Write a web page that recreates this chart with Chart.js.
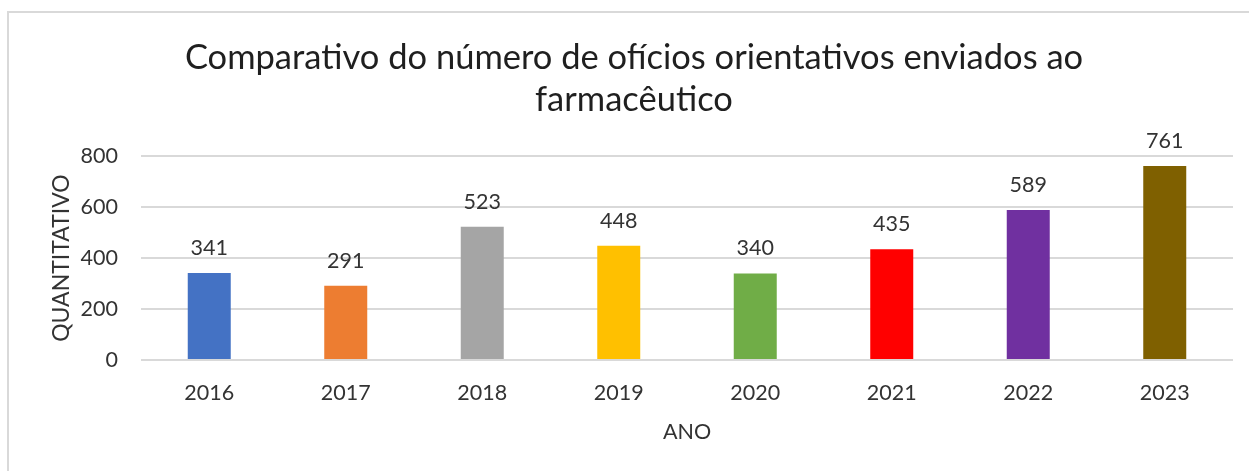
<!DOCTYPE html>
<html>
<head>
<meta charset="utf-8">
<script src="https://cdn.jsdelivr.net/npm/chart.js@4/dist/chart.umd.min.js"></script>
<style>
  html, body { margin: 0; padding: 0; background: #fff; overflow: hidden; }
  .frame {
    position: absolute; left: 7px; top: 11px;
    width: 1400px; height: 600px;
    border-left: 2px solid #d9d9d9; border-top: 2px solid #d9d9d9;
  }
  #chart { position: absolute; left: 0; top: 0; }
</style>
</head>
<body>
<div class="frame"></div>
<canvas id="chart" width="1249" height="471"></canvas>
<script>
const anos = ["2016", "2017", "2018", "2019", "2020", "2021", "2022", "2023"];
const oficios = [341, 291, 523, 448, 340, 435, 589, 761];
const coresBarras = ["#4472C4", "#ED7D31", "#A5A5A5", "#FFC000", "#70AD47", "#FF0000", "#7030A0", "#7F6000"];
const ticksY = [0, 200, 400, 600, 800];
const tituloY = "QUANTITATIVO";

const fontFamily = "Lato, 'Open Sans', sans-serif";
const textColor = "#333333";

// rotulos de dados acima das barras + titulo do eixo y
const rotulos = {
    id: "rotulos",
    afterDatasetsDraw(chart) {
        const ctx = chart.ctx;
        const meta = chart.getDatasetMeta(0);
        ctx.save();
        ctx.font = "21.5px " + fontFamily;
        ctx.fillStyle = textColor;
        ctx.textAlign = "center";
        ctx.textBaseline = "middle";
        meta.data.forEach((bar, i) => {
            ctx.fillText(String(oficios[i]), bar.x, bar.y - 25);
        });
        // titulo vertical
        const area = chart.chartArea;
        ctx.font = "23px " + fontFamily;
        ctx.translate(62, (area.top + area.bottom) / 2);
        ctx.rotate(-Math.PI / 2);
        ctx.fillText(tituloY, 0, 0);
        ctx.restore();
    }
};

new Chart(document.getElementById("chart").getContext("2d"), {
    type: "bar",
    data: {
        labels: anos,
        datasets: [{
            data: oficios,
            backgroundColor: coresBarras,
            borderWidth: 0,
            categoryPercentage: 1,
            barPercentage: 0.315,
        }],
    },
    options: {
        responsive: false,
        animation: false,
        layout: { padding: { left: 35, right: 16, top: 0, bottom: 0 } },
        plugins: {
            legend: { display: false },
            tooltip: { enabled: false },
            title: {
                display: true,
                text: ["Comparativo do número de ofícios orientativos enviados ao", "farmacêutico"],
                color: "#1f1f1f",
                font: { family: fontFamily, size: 34.5, weight: "normal", lineHeight: 1.22 },
                padding: { top: 37, bottom: 35 },
            },
        },
        scales: {
            x: {
                grid: { display: false },
                border: { display: false },
                ticks: {
                    color: textColor,
                    font: { family: fontFamily, size: 21.5, lineHeight: 1.2 },
                    padding: 12,
                },
                title: {
                    display: true,
                    text: "ANO",
                    color: textColor,
                    font: { family: fontFamily, size: 21.5, lineHeight: 1.2 },
                    padding: { top: 0, bottom: 26 },
                },
                afterFit: (s) => { s.height = 111; },
            },
            y: {
                min: 0,
                max: 800,
                afterBuildTicks: (s) => { s.ticks = ticksY.map((v) => ({ value: v })); },
                grid: { color: "#d9d9d9", lineWidth: 2, drawTicks: false },
                border: { display: false },
                ticks: {
                    color: textColor,
                    font: { family: fontFamily, size: 21.5 },
                    padding: 23,
                },
                afterFit: (s) => { s.width = 106; },
            },
        },
    },
    plugins: [rotulos],
});
</script>
</body>
</html>
